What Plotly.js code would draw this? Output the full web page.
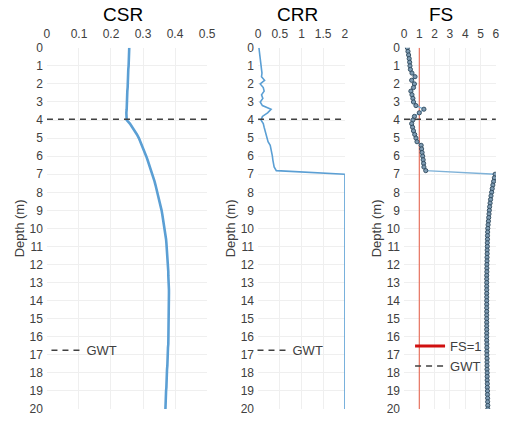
<!DOCTYPE html>
<html>
<head>
<meta charset="utf-8">
<script src="https://cdn.plot.ly/plotly-3.0.1.min.js"></script>
<style>html,body{margin:0;padding:0;background:#fff;}#chart{width:505px;height:423px;}</style>
</head>
<body>
<div id="chart"></div>
<script>
// ---- data ----
const depth = [0,0.2,0.4,0.6,0.8,1,1.2,1.4,1.6,1.8,2,2.2,2.4,2.6,2.8,3,3.2,3.4,3.6,3.8,
  4,4.2,4.4,4.6,4.8,5,5.2,5.4,5.6,5.8,6,6.2,6.4,6.6,6.8,
  7,7.2,7.4,7.6,7.8,8,8.2,8.4,8.6,8.8,9,9.2,9.4,9.6,9.8,
  10,10.2,10.4,10.6,10.8,11,11.2,11.4,11.6,11.8,12,12.2,12.4,12.6,12.8,
  13,13.2,13.4,13.6,13.8,14,14.2,14.4,14.6,14.8,15,15.2,15.4,15.6,15.8,
  16,16.2,16.4,16.6,16.8,17,17.2,17.4,17.6,17.8,18,18.2,18.4,18.6,18.8,
  19,19.2,19.4,19.6,19.8,20];
const csr = [0.257,0.257,0.256,0.256,0.255,0.255,0.254,0.254,0.253,0.253,0.252,0.252,0.251,0.251,0.250,0.250,0.249,0.249,0.248,0.248,
  0.249,0.259,0.267,0.274,0.281,0.287,0.292,0.297,0.302,0.306,0.310,0.314,0.318,0.322,0.326,
  0.330,0.333,0.336,0.339,0.342,0.345,0.348,0.351,0.353,0.356,0.358,0.360,0.362,0.364,0.366,
  0.368,0.369,0.370,0.372,0.373,0.374,0.375,0.376,0.377,0.377,0.378,0.378,0.379,0.379,0.380,
  0.380,0.380,0.381,0.381,0.381,0.381,0.381,0.381,0.381,0.381,0.381,0.380,0.380,0.380,0.380,
  0.379,0.379,0.379,0.378,0.378,0.377,0.377,0.376,0.376,0.375,0.375,0.374,0.374,0.373,0.373,
  0.372,0.372,0.371,0.371,0.370,0.370];
const crr = [0.02,0.03,0.04,0.05,0.05,0.06,0.07,0.09,0.08,0.15,0.05,0.12,0.14,0.08,0.11,0.05,0.10,0.30,0.22,0.10,
  0.07,0.12,0.14,0.16,0.18,0.20,0.23,0.28,0.30,0.31,0.33,0.34,0.35,0.37,0.42,
  2,2,2,2,2,2,2,2,2,2,2,2,2,2,2,
  2,2,2,2,2,2,2,2,2,2,2,2,2,2,2,
  2,2,2,2,2,2,2,2,2,2,2,2,2,2,2,
  2,2,2,2,2,2,2,2,2,2,2,2,2,2,2,
  2,2,2,2,2,2];
const fs = [0.22,0.26,0.30,0.34,0.37,0.39,0.42,0.52,0.72,0.50,0.68,0.62,0.45,0.52,0.58,0.62,0.78,1.30,1.00,0.68,
  0.58,0.50,0.56,0.62,0.70,0.78,0.85,1.12,1.15,1.18,1.22,1.25,1.28,1.30,1.42,
  5.95,5.90,5.85,5.80,5.76,5.72,5.68,5.65,5.62,5.59,5.57,5.55,5.53,5.51,5.49,
  5.47,5.46,5.45,5.45,5.44,5.44,5.43,5.43,5.42,5.42,5.41,5.41,5.41,5.40,5.40,
  5.40,5.40,5.40,5.40,5.40,5.40,5.40,5.40,5.40,5.40,5.40,5.40,5.40,5.40,5.40,
  5.40,5.40,5.41,5.41,5.41,5.41,5.42,5.42,5.42,5.42,5.43,5.43,5.43,5.44,5.44,
  5.45,5.45,5.46,5.46,5.47,5.47];
const gwtDepth = 3.95;
const fsLimit = 1;
const depthRange = [0, 20];
const csrRange = [0, 0.5];
const crrRange = [0, 2];
const fsRange = [0, 6];
const panelTitles = ['CSR', 'CRR', 'FS'];

// ---- styles ----
const FONT = 'Liberation Sans, Arial, sans-serif';
const TXT = '#404040';
const BLUE = '#5b9fd4';
const DASH = '#404040';

const traces = [
  {x: csr, y: depth, xaxis: 'x', yaxis: 'y', mode: 'lines', line: {color: BLUE, width: 2.6}, showlegend: false, hoverinfo: 'skip'},
  {x: csrRange, y: [gwtDepth, gwtDepth], xaxis: 'x', yaxis: 'y', mode: 'lines', name: 'GWT',
   line: {color: DASH, width: 1.5, dash: '6px,5px'}, legend: 'legend'},
  {x: crr, y: depth, xaxis: 'x2', yaxis: 'y2', mode: 'lines', line: {color: BLUE, width: 1.6}, showlegend: false},
  {x: crrRange, y: [gwtDepth, gwtDepth], xaxis: 'x2', yaxis: 'y2', mode: 'lines', name: 'GWT',
   line: {color: DASH, width: 1.5, dash: '6px,5px'}, legend: 'legend2'},
  {x: [fsLimit, fsLimit], y: depthRange, xaxis: 'x3', yaxis: 'y3', mode: 'lines', line: {color: '#e8735f', width: 1.2}, showlegend: false},
  {x: fs, y: depth, xaxis: 'x3', yaxis: 'y3', mode: 'lines+markers', line: {color: '#7fb2d8', width: 1.3},
   marker: {size: 4.2, color: '#7f9cb3', line: {color: '#2c475b', width: 0.9}}, showlegend: false},
  {x: [null], y: [null], xaxis: 'x3', yaxis: 'y3', mode: 'lines', name: 'FS=1', line: {color: '#d01010', width: 3}, legend: 'legend3'},
  {x: fsRange, y: [gwtDepth, gwtDepth], xaxis: 'x3', yaxis: 'y3', mode: 'lines', name: 'GWT',
   line: {color: DASH, width: 1.5, dash: '6px,5px'}, legend: 'legend3'}
];

const yDom = [0.033, 0.887];
function xAx(dom, rng, dt, anchor) {
  return {domain: dom, range: rng, dtick: dt, side: 'top', anchor: anchor, showgrid: true, gridcolor: '#efefef', gridwidth: 1,
    zeroline: false, showline: false, ticks: '', ticklabelstandoff: 6, tickfont: {family: FONT, size: 12, color: TXT}, fixedrange: true};
}
function yAx(anchor) {
  return {domain: yDom, range: [depthRange[1], depthRange[0]], dtick: 1, anchor: anchor, showgrid: true, gridcolor: '#efefef', gridwidth: 1,
    zeroline: false, showline: false, ticks: '', ticklabelstandoff: 3, tickfont: {family: FONT, size: 12, color: TXT},
    title: {text: 'Depth (m)', font: {family: FONT, size: 13, color: TXT}, standoff: 2}, fixedrange: true};
}
const legendBase = {font: {family: FONT, size: 13, color: TXT}, bgcolor: 'rgba(0,0,0,0)', borderwidth: 0,
  xanchor: 'left', yanchor: 'middle', tracegroupgap: 0};

const layout = {
  width: 505, height: 423,
  margin: {l: 0, r: 0, t: 0, b: 0},
  paper_bgcolor: '#fff', plot_bgcolor: '#fff',
  font: {family: FONT, color: TXT},
  xaxis: xAx([0.093, 0.410], csrRange, 0.1, 'y'),
  xaxis2: xAx([0.511, 0.683], crrRange, 0.5, 'y2'),
  xaxis3: xAx([0.800, 0.982], fsRange, 1, 'y3'),
  yaxis: yAx('x'), yaxis2: yAx('x2'), yaxis3: yAx('x3'),
  legend: Object.assign({}, legendBase, {x: 0.092, y: 0.172}),
  legend2: Object.assign({}, legendBase, {x: 0.500, y: 0.172}),
  legend3: Object.assign({}, legendBase, {x: 0.812, y: 0.158}),
  annotations: panelTitles.map((t, i) => ({
    text: t, xref: 'paper', yref: 'paper', x: [0.243, 0.59, 0.873][i], y: 0.965,
    xanchor: 'center', yanchor: 'middle', showarrow: false, font: {family: FONT, size: 19, color: '#000'}
  }))
};

Plotly.newPlot('chart', traces, layout, {displayModeBar: false, staticPlot: true});
</script>
</body>
</html>
